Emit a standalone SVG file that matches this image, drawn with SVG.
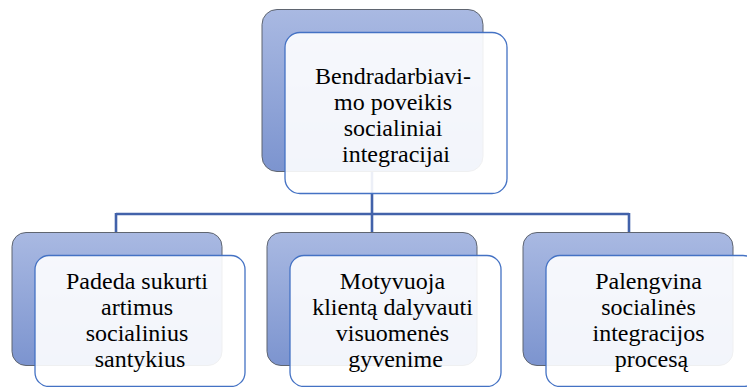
<svg xmlns="http://www.w3.org/2000/svg" width="747" height="387" viewBox="0 0 747 387">
  <defs>
    <linearGradient id="backFill" x1="0" y1="0" x2="0" y2="1">
      <stop offset="0" stop-color="#a9b9e2"/>
      <stop offset="1" stop-color="#7c94cf"/>
    </linearGradient>
    <style>
      .back { fill: url(#backFill); stroke: #5f6570; stroke-width: 1; }
      .front { fill: #ffffff; fill-opacity: 0.9; stroke: #4472c4; stroke-width: 1.3; }
      .label { font-family: "Liberation Serif", "Times New Roman", serif; font-size: 24px; fill: #000; text-anchor: middle; }
      .link { fill: none; stroke: #4262aa; stroke-width: 2.6; }
    </style>
  </defs>

  <rect width="747" height="387" fill="#ffffff"/>

  <!-- connectors -->
  <g id="connectors">
    <path class="link" d="M372 172 V214"/>
    <path class="link" d="M116 214 H629"/>
    <path class="link" d="M116 213 V233"/>
    <path class="link" d="M372 213 V233"/>
    <path class="link" d="M629 213 V233"/>
  </g>

  <!-- root -->
  <g id="root">
    <rect class="back" x="262" y="9.5" width="221" height="162" rx="15"/>
    <rect class="front" x="285" y="32.5" width="222" height="161" rx="15"/>
    <text class="label">
      <tspan x="396" y="83.5">Bendradarbiavi-</tspan>
      <tspan x="396" y="109.5">mo poveikis</tspan>
      <tspan x="396" y="135.5">socialiniai</tspan>
      <tspan x="396" y="161.5">integracijai</tspan>
    </text>
  </g>

  <!-- child 1 -->
  <g id="node-padeda">
    <rect class="back" x="12" y="232.5" width="210" height="133" rx="14"/>
    <rect class="front" x="35" y="255.5" width="210" height="131" rx="14"/>
    <text class="label">
      <tspan x="140" y="288.5">Padeda sukurti</tspan>
      <tspan x="140" y="314.5">artimus</tspan>
      <tspan x="140" y="340.5">socialinius</tspan>
      <tspan x="140" y="366.5">santykius</tspan>
    </text>
  </g>

  <!-- child 2 -->
  <g id="node-motyvuoja">
    <rect class="back" x="267" y="232.5" width="210" height="133" rx="14"/>
    <rect class="front" x="290" y="255.5" width="211" height="131" rx="14"/>
    <text class="label">
      <tspan x="395.5" y="288.5">Motyvuoja</tspan>
      <tspan x="395.5" y="314.5">klientą dalyvauti</tspan>
      <tspan x="395.5" y="340.5">visuomenės</tspan>
      <tspan x="395.5" y="366.5">gyvenime</tspan>
    </text>
  </g>

  <!-- child 3 -->
  <g id="node-palengvina">
    <rect class="back" x="523" y="232.5" width="210" height="133" rx="14"/>
    <rect class="front" x="546" y="255.5" width="211" height="131" rx="14"/>
    <text class="label">
      <tspan x="651.5" y="288.5">Palengvina</tspan>
      <tspan x="651.5" y="314.5">socialinės</tspan>
      <tspan x="651.5" y="340.5">integracijos</tspan>
      <tspan x="651.5" y="366.5">procesą</tspan>
    </text>
  </g>
</svg>
